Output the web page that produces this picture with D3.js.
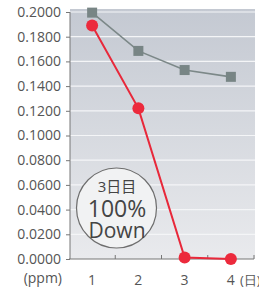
<!DOCTYPE html>
<html><head><meta charset="utf-8">
<script src="https://cdn.jsdelivr.net/npm/d3@7"></script>
<style>body{margin:0;background:#fff}svg{display:block}</style>
</head><body>
<svg id="c" width="259" height="291"></svg>
<script>
const days = [1, 2, 3, 4];
const graySeries = [0.1995, 0.1685, 0.1530, 0.1475];
const redSeries = [0.1890, 0.1220, 0.0012, 0.0000];
const yTicks = [0, 0.02, 0.04, 0.06, 0.08, 0.10, 0.12, 0.14, 0.16, 0.18, 0.20];
const yUnit = "(ppm)";
const xUnit = "(日)";
const noteLines = ["3日目", "100%", "Down"];

const svg = d3.select("#c");
const x = d3.scaleBand().domain(days).range([69, 254]);
const y = d3.scaleLinear().domain([0, 0.2]).range([259, 12]);
const cx = d => x(d) + x.bandwidth() / 2;

const defs = svg.append("defs");
const g = defs.append("linearGradient").attr("id", "bg").attr("x1", 0).attr("y1", 0).attr("x2", 0).attr("y2", 1);
g.append("stop").attr("offset", "0%").attr("stop-color", "#c4c9d2");
g.append("stop").attr("offset", "100%").attr("stop-color", "#e9eaed");

svg.append("rect").attr("x", 70).attr("y", 9).attr("width", 185).attr("height", 250).attr("fill", "url(#bg)");

// gridlines
svg.append("g").selectAll("line").data(yTicks.slice(1)).join("line")
  .attr("x1", 70).attr("x2", 255).attr("y1", d => y(d)).attr("y2", d => y(d))
  .attr("stroke", "#f4f5f7").attr("stroke-width", 1.2);

// y axis
const ya = svg.append("g").attr("transform", "translate(70,0)")
  .call(d3.axisLeft(y).tickValues(yTicks).tickFormat(d3.format(".4f")).tickSize(4).tickPadding(5));
ya.select(".domain").attr("stroke", "#777").attr("d", "M0,12V259");
ya.selectAll(".tick line").attr("stroke", "#777");
ya.selectAll("text").attr("font-family", "Open Sans").attr("font-size", 14).attr("fill", "#555");

// x axis
const xa = svg.append("g").attr("transform", "translate(0,259)");
xa.append("line").attr("x1", 69).attr("x2", 254).attr("y1", 0).attr("y2", 0).attr("stroke", "#777").attr("stroke-width", 1.2);
xa.selectAll("line.t").data(days).join("line").attr("class", "t")
  .attr("x1", d => x(d) + x.bandwidth()).attr("x2", d => x(d) + x.bandwidth())
  .attr("y1", 0).attr("y2", -4).attr("stroke", "#777");
xa.selectAll("text.l").data(days).join("text").attr("class", "l")
  .attr("x", d => cx(d)).attr("y", 26).attr("text-anchor", "middle")
  .attr("font-family", "Open Sans").attr("font-size", 14).attr("fill", "#555").text(d => d);
xa.append("text").attr("x", 240).attr("y", 26).attr("font-family", "Open Sans").attr("font-size", 13).attr("fill", "#555").text(xUnit);
svg.append("text").attr("x", 62).attr("y", 283).attr("text-anchor", "end")
  .attr("font-family", "Open Sans").attr("font-size", 14).attr("fill", "#555").text(yUnit);

// note circle
const note = svg.append("g");
note.append("circle").attr("cx", 116.5).attr("cy", 208).attr("r", 40)
  .attr("fill", "#f1f2f3").attr("stroke", "#6e6e6e").attr("stroke-width", 1.2);
const sizes = [15, 23, 21];
const ys = [192, 217, 238];
note.selectAll("text").data(noteLines).join("text")
  .attr("x", 117).attr("y", (d, i) => ys[i]).attr("text-anchor", "middle")
  .attr("font-family", "Open Sans, Noto Sans CJK JP").attr("font-size", (d, i) => sizes[i]).attr("fill", "#444")
  .text(d => d);

// gray series
const line = d3.line().x((d, i) => cx(days[i])).y(d => y(d));
svg.append("path").datum(graySeries).attr("d", line).attr("fill", "none").attr("stroke", "#7c8888").attr("stroke-width", 1.6);
svg.append("g").selectAll("rect").data(graySeries).join("rect")
  .attr("x", (d, i) => cx(days[i]) - 5).attr("y", d => y(d) - 5).attr("width", 10).attr("height", 10).attr("fill", "#788585");

// red series
svg.append("path").datum(redSeries).attr("d", line).attr("fill", "none").attr("stroke", "#e8283a").attr("stroke-width", 2);
svg.append("g").selectAll("circle").data(redSeries).join("circle")
  .attr("cx", (d, i) => cx(days[i])).attr("cy", d => y(d)).attr("r", 6).attr("fill", "#ec2a3c");
</script>
</body></html>
